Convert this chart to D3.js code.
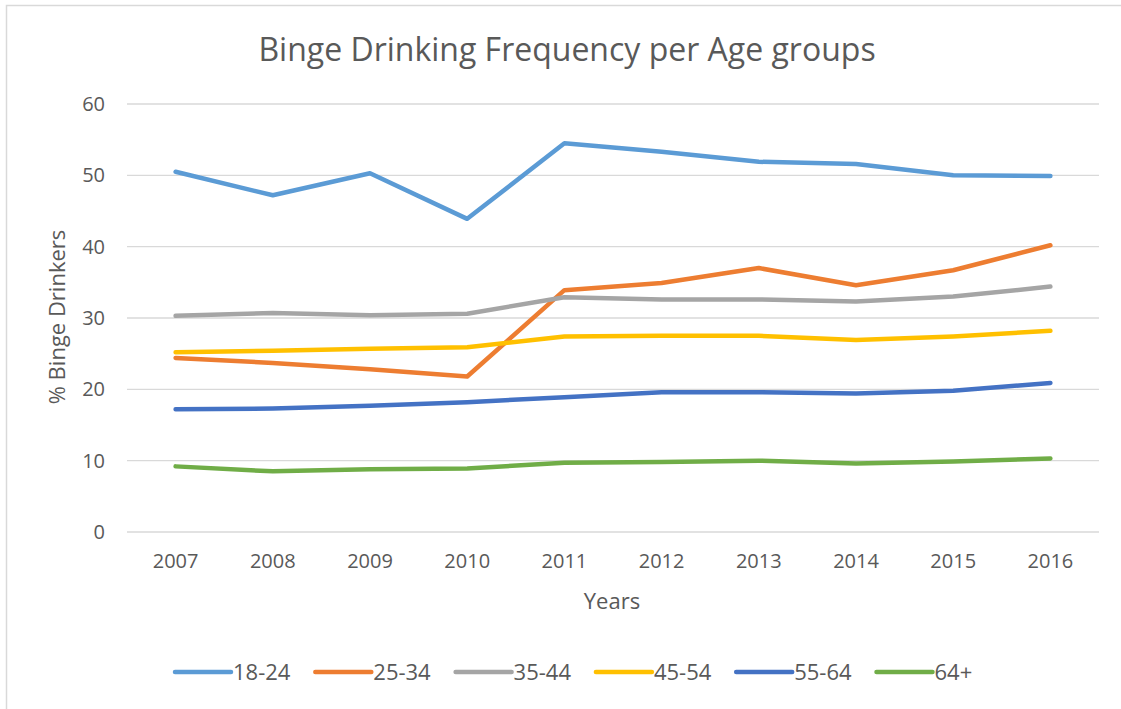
<!DOCTYPE html>
<html>
<head>
<meta charset="utf-8">
<script src="https://cdn.jsdelivr.net/npm/d3@7"></script>
<style>
  body { margin: 0; background: #fff; }
  text { font-family: "Open Sans", sans-serif; fill: #595959; }
</style>
</head>
<body>
<div id="chart"></div>
<script>
// chart data
const years = ["2007", "2008", "2009", "2010", "2011", "2012", "2013", "2014", "2015", "2016"];
const groups = ["18-24", "25-34", "35-44", "45-54", "55-64", "64+"];
const age18to24 = [50.5, 47.2, 50.3, 43.9, 54.5, 53.3, 51.9, 51.6, 50.0, 49.9];
const age25to34 = [24.4, 23.7, 22.8, 21.8, 33.9, 34.9, 37.0, 34.6, 36.7, 40.2];
const age35to44 = [30.3, 30.7, 30.4, 30.6, 32.9, 32.6, 32.6, 32.3, 33.0, 34.4];
const age45to54 = [25.2, 25.4, 25.7, 25.9, 27.4, 27.5, 27.5, 26.9, 27.4, 28.2];
const age55to64 = [17.2, 17.3, 17.7, 18.2, 18.9, 19.6, 19.6, 19.4, 19.8, 20.9];
const age64plus = [9.2, 8.5, 8.8, 8.9, 9.7, 9.8, 10.0, 9.6, 9.9, 10.3];
const yTicks = [0, 10, 20, 30, 40, 50, 60];

const seriesValues = [age18to24, age25to34, age35to44, age45to54, age55to64, age64plus];
const colors = ["#5B9BD5", "#ED7D31", "#A5A5A5", "#FFC000", "#4472C4", "#70AD47"];

const width = 1121;
const height = 709;

const svg = d3.select("#chart")
    .append("svg")
    .attr("width", width)
    .attr("height", height);

// chart border (only top and left edges are in view)
svg.append("rect")
    .attr("x", 6.5).attr("y", 5.5)
    .attr("width", 1130).attr("height", 720)
    .attr("fill", "none")
    .attr("stroke", "#d9d9d9")
    .attr("stroke-width", 1.5);

// scales
const x = d3.scaleBand().domain(years).range([127, 1099]);
const y = d3.scaleLinear().domain([0, 60]).range([532, 104]);

// gridlines
svg.append("g")
    .selectAll("line")
    .data(yTicks)
    .join("line")
    .attr("x1", 127).attr("x2", 1099)
    .attr("y1", d => y(d)).attr("y2", d => y(d))
    .attr("stroke", "#d9d9d9")
    .attr("stroke-width", 1.3);

// y axis labels
const yAxis = svg.append("g")
    .attr("transform", "translate(105,0)")
    .call(d3.axisLeft(y).tickValues(yTicks).tickSize(0).tickPadding(0));
yAxis.select(".domain").remove();
yAxis.selectAll("text")
    .style("font-size", "20px")
    .attr("fill", "#595959")
    .attr("font-family", null);

// x axis labels
const xAxis = svg.append("g")
    .attr("transform", "translate(0,532)")
    .call(d3.axisBottom(x).tickSize(0).tickPadding(22));
xAxis.select(".domain").remove();
xAxis.selectAll("text")
    .style("font-size", "20px")
    .attr("fill", "#595959")
    .attr("font-family", null);

// lines
const line = d3.line()
    .x((d, i) => x(years[i]) + x.bandwidth() / 2)
    .y(d => y(d));

svg.append("g")
    .selectAll("path")
    .data(seriesValues)
    .join("path")
    .attr("d", d => line(d))
    .attr("fill", "none")
    .attr("stroke", (d, i) => colors[i])
    .attr("stroke-width", 4.5)
    .attr("stroke-linecap", "round")
    .attr("stroke-linejoin", "round");

// title
svg.append("text")
    .attr("x", 567)
    .attr("y", 61)
    .attr("text-anchor", "middle")
    .style("font-size", "32px")
    .text("Binge Drinking Frequency per Age groups");

// axis titles
svg.append("text")
    .attr("x", 612)
    .attr("y", 609)
    .attr("text-anchor", "middle")
    .style("font-size", "22px")
    .text("Years");

svg.append("text")
    .attr("transform", "translate(65,317) rotate(-90)")
    .attr("text-anchor", "middle")
    .style("font-size", "22px")
    .text("% Binge Drinkers");

// legend
const legend = svg.append("g")
    .selectAll("g")
    .data(groups)
    .join("g")
    .attr("transform", (d, i) => `translate(${175 + i * 140.3},672)`);

legend.append("line")
    .attr("x1", 0).attr("x2", 56)
    .attr("stroke", (d, i) => colors[i])
    .attr("stroke-width", 4.5)
    .attr("stroke-linecap", "round");

legend.append("text")
    .attr("x", 58)
    .attr("dy", "0.35em")
    .style("font-size", "22px")
    .text(d => d);
</script>
</body>
</html>
